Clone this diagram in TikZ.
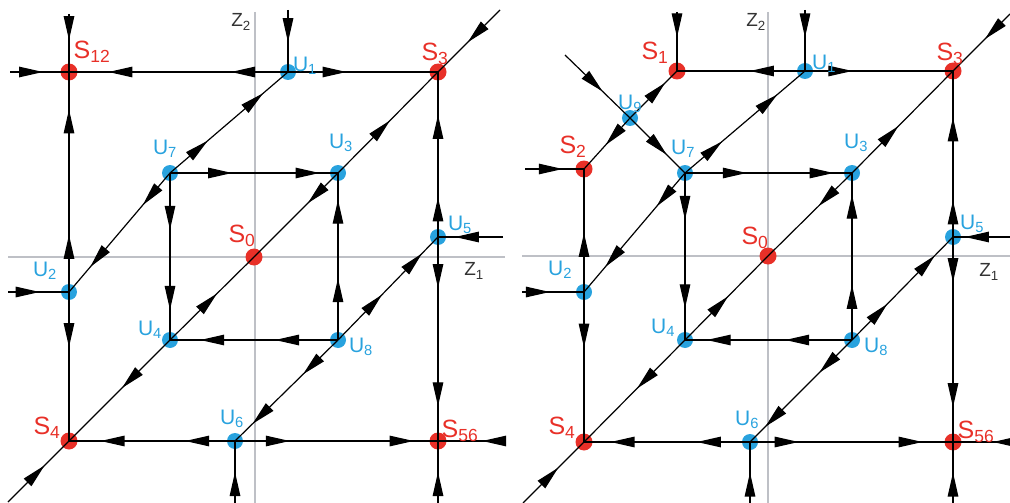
\documentclass[tikz,border=0pt]{standalone}
\usepackage{fontspec}
\setmainfont{Liberation Sans}
\usetikzlibrary{arrows.meta,decorations.markings}
\definecolor{sred}{RGB}{232,48,40}
\definecolor{ublue}{RGB}{40,162,222}
\definecolor{axgray}{RGB}{190,192,198}
\tikzset{
  ah/.tip={Triangle[length=24pt,width=10.5pt]},
  sdot/.style={circle,fill=sred,inner sep=0pt,minimum size=17pt},
  udot/.style={circle,fill=ublue,inner sep=0pt,minimum size=16pt},
  slab/.style={text=sred,font=\fontsize{25}{25}\selectfont,inner sep=0pt},
  ulab/.style={text=ublue,font=\fontsize{21}{21}\selectfont,inner sep=0pt},
  zlab/.style={text=black!80,font=\fontsize{19}{19}\selectfont,inner sep=0pt},
  ln/.style={line width=1.2pt,black},
  axisln/.style={draw=axgray,line width=1.3pt},
  aone/.style={ln,postaction={decorate},decoration={markings,mark=at position #1 with {\arrow{ah}}}},
  atwo/.style 2 args={ln,postaction={decorate},decoration={markings,mark=at position #1 with {\arrow{ah}},mark=at position #2 with {\arrow{ah}}}},
}
\begin{document}
\begin{tikzpicture}[x=1pt,y=-1pt]
\useasboundingbox (0,0) rectangle (1010,503);
% ---------------- axes
\coordinate (LaxT) at (255,12); \coordinate (LaxB) at (255,503);
\coordinate (LaxL) at (8,257);  \coordinate (LaxR) at (505,257);
\coordinate (RaxT) at (768,12); \coordinate (RaxB) at (768,503);
\coordinate (RaxL) at (522,256); \coordinate (RaxR) at (1010,256);
\draw[axisln] (LaxT) -- (LaxB);
\draw[axisln] (LaxL) -- (LaxR);
\draw[axisln] (RaxT) -- (RaxB);
\draw[axisln] (RaxL) -- (RaxR);
% ---------------- left panel nodes
\node[sdot] (LS12) at (69,72) {};
\node[udot] (LU1) at (288,72) {};
\node[sdot] (LS3) at (438,72) {};
\node[udot] (LU7) at (170,173) {};
\node[udot] (LU3) at (338,173) {};
\node[sdot] (LS0) at (254,257) {};
\node[udot] (LU5) at (438,237) {};
\node[udot] (LU2) at (69,292) {};
\node[udot] (LU4) at (170,340) {};
\node[udot] (LU8) at (338,340) {};
\node[sdot] (LS4) at (69,441) {};
\node[udot] (LU6) at (235,441) {};
\node[sdot] (LS56) at (438,441) {};
\coordinate (LoS12t) at (69,14);
\coordinate (LoS12l) at (10,72);
\coordinate (LoU1t) at (288,10);
\coordinate (LoS3) at (500,10);
\coordinate (LoU2) at (8,292);
\coordinate (LoU5) at (503,237);
\coordinate (LoS56r) at (505,441);
\coordinate (LoS56b) at (438,503);
\coordinate (LoU6b) at (235,503);
\coordinate (LoS4) at (8,502);
% left connectors
\draw[aone=0.56] (LoS12l) -- (LS12.center);
\draw[aone=0.45] (LoS12t) -- (LS12.center);
\draw[atwo={0.26}{0.82}] (LU1.center) -- (LS12.center);
\draw[aone=0.52] (LoU1t) -- (LU1.center);
\draw[aone=0.39] (LU1.center) -- (LS3.center);
\draw[aone=0.52] (LoS3) -- (LS3.center);
\draw[aone=0.52] (LU3.center) -- (LS3.center);
\draw[aone=0.36] (LU3.center) -- (LS0.center);
\draw[aone=0.56] (LU4.center) -- (LS0.center);
\draw[aone=0.475] (LU4.center) -- (LS4.center);
\draw[aone=0.6] (LoS4) -- (LS4.center);
\draw[atwo={0.32}{0.79}] (LU7.center) -- (LU1.center);
\draw[atwo={0.27}{0.79}] (LU7.center) -- (LU2.center);
\draw[atwo={0.26}{0.83}] (LU2.center) -- (LS12.center);
\draw[aone=0.37] (LU2.center) -- (LS4.center);
\draw[aone=0.52] (LoU2) -- (LU2.center);
\draw[atwo={0.37}{0.89}] (LU7.center) -- (LU3.center);
\draw[atwo={0.34}{0.82}] (LU7.center) -- (LU4.center);
\draw[atwo={0.37}{0.84}] (LU8.center) -- (LU3.center);
\draw[atwo={0.375}{0.82}] (LU8.center) -- (LU4.center);
\draw[atwo={0.34}{0.83}] (LU8.center) -- (LU6.center);
\draw[atwo={0.44}{0.84}] (LU8.center) -- (LU5.center);
\draw[atwo={0.24}{0.74}] (LU5.center) -- (LS3.center);
\draw[aone=0.74] (LoU5) -- (LU5.center);
\draw[atwo={0.25}{0.83}] (LU5.center) -- (LS56.center);
\draw[aone=0.34] (LoS56r) -- (LS56.center);
\draw[aone=0.5] (LoS56b) -- (LS56.center);
\draw[aone=0.5] (LoU6b) -- (LU6.center);
\draw[atwo={0.3}{0.81}] (LU6.center) -- (LS4.center);
\draw[atwo={0.27}{0.88}] (LU6.center) -- (LS56.center);
% left labels
\node[slab] (LlS12) at (92,52) {S\textsubscript{12}};
\node[ulab] (LlU1) at (305,66) {U\textsubscript{1}};
\node[slab] (LlS3) at (435,54) {S\textsubscript{3}};
\node[ulab] (LlU7) at (165,149) {U\textsubscript{7}};
\node[ulab] (LlU3) at (341,143) {U\textsubscript{3}};
\node[slab] (LlS0) at (242,236) {S\textsubscript{0}};
\node[ulab] (LlU5) at (460,225) {U\textsubscript{5}};
\node[ulab] (LlU2) at (45,271) {U\textsubscript{2}};
\node[ulab] (LlU4) at (150,330) {U\textsubscript{4}};
\node[ulab] (LlU8) at (361,347) {U\textsubscript{8}};
\node[slab] (LlS4) at (47,428) {S\textsubscript{4}};
\node[ulab] (LlU6) at (232,419) {U\textsubscript{6}};
\node[slab] (LlS56) at (460,431) {S\textsubscript{56}};
\node[zlab] (LlZ1) at (474,271) {Z\textsubscript{1}};
\node[zlab] (LlZ2) at (241,22) {Z\textsubscript{2}};
% ---------------- right panel nodes
\node[sdot] (RS1) at (677,71) {};
\node[udot] (RU1) at (805,71) {};
\node[sdot] (RS3) at (953,71) {};
\node[udot] (RU9) at (630,118) {};
\node[sdot] (RS2) at (584,169) {};
\node[udot] (RU7) at (685,173) {};
\node[udot] (RU3) at (852,173) {};
\node[sdot] (RS0) at (768,256) {};
\node[udot] (RU5) at (953,237) {};
\node[udot] (RU2) at (584,292) {};
\node[udot] (RU4) at (685,340) {};
\node[udot] (RU8) at (852,340) {};
\node[sdot] (RS4) at (584,442) {};
\node[udot] (RU6) at (750,442) {};
\node[sdot] (RS56) at (953,442) {};
\coordinate (RoS1t) at (677,12);
\coordinate (RoU1t) at (805,10);
\coordinate (RoS3) at (1010,14);
\coordinate (RoU9) at (565,55);
\coordinate (RoS2) at (525,169);
\coordinate (RoU2) at (522,292);
\coordinate (RoU5) at (1010,237);
\coordinate (RoS56r) at (1010,442);
\coordinate (RoS56b) at (953,503);
\coordinate (RoU6b) at (750,503);
\coordinate (RoS4) at (523,503);
% right connectors
\draw[aone=0.64] (RoS2) -- (RS2.center);
\draw[aone=0.43] (RoS1t) -- (RS1.center);
\draw[aone=0.43] (RU1.center) -- (RS1.center);
\draw[aone=0.45] (RoU1t) -- (RU1.center);
\draw[aone=0.32] (RU1.center) -- (RS3.center);
\draw[aone=0.44] (RoS3) -- (RS3.center);
\draw[aone=0.46] (RU3.center) -- (RS3.center);
\draw[aone=0.4] (RU3.center) -- (RS0.center);
\draw[aone=0.52] (RU4.center) -- (RS0.center);
\draw[aone=0.475] (RU4.center) -- (RS4.center);
\draw[aone=0.58] (RoS4) -- (RS4.center);
\draw[aone=0.75] (RU9.center) -- (RS1.center);
\draw[aone=0.53] (RU9.center) -- (RS2.center);
\draw[aone=0.58] (RoU9) -- (RU9.center);
\draw[aone=0.67] (RU9.center) -- (RU7.center);
\draw[aone=0.48] (RU2.center) -- (RS2.center);
\draw[atwo={0.28}{0.79}] (RU7.center) -- (RU2.center);
\draw[atwo={0.31}{0.77}] (RU7.center) -- (RU1.center);
\draw[atwo={0.37}{0.89}] (RU7.center) -- (RU3.center);
\draw[atwo={0.28}{0.81}] (RU7.center) -- (RU4.center);
\draw[atwo={0.22}{0.72}] (RU5.center) -- (RS3.center);
\draw[aone=0.79] (RoU5) -- (RU5.center);
\draw[atwo={0.35}{0.82}] (RU8.center) -- (RU5.center);
\draw[atwo={0.32}{0.85}] (RU8.center) -- (RU6.center);
\draw[atwo={0.33}{0.87}] (RU8.center) -- (RU3.center);
\draw[atwo={0.4}{0.87}] (RU8.center) -- (RU4.center);
\draw[aone=0.37] (RU2.center) -- (RS4.center);
\draw[aone=0.45] (RoU2) -- (RU2.center);
\draw[atwo={0.22}{0.83}] (RU5.center) -- (RS56.center);
\draw[aone=0.3] (RoS56r) -- (RS56.center);
\draw[aone=0.5] (RoS56b) -- (RS56.center);
\draw[aone=0.5] (RoU6b) -- (RU6.center);
\draw[atwo={0.32}{0.84}] (RU6.center) -- (RS4.center);
\draw[atwo={0.24}{0.85}] (RU6.center) -- (RS56.center);
% right labels
\node[slab] (RlS1) at (655,53) {S\textsubscript{1}};
\node[ulab] (RlU9) at (630,104) {U\textsubscript{9}};
\node[slab] (RlS2) at (573,147) {S\textsubscript{2}};
\node[ulab] (RlU7) at (683,149) {U\textsubscript{7}};
\node[ulab] (RlU1) at (824,64) {U\textsubscript{1}};
\node[slab] (RlS3) at (950,54) {S\textsubscript{3}};
\node[ulab] (RlU3) at (856,143) {U\textsubscript{3}};
\node[slab] (RlS0) at (755,238) {S\textsubscript{0}};
\node[ulab] (RlU5) at (972,224) {U\textsubscript{5}};
\node[ulab] (RlU2) at (560,270) {U\textsubscript{2}};
\node[ulab] (RlU4) at (663,328) {U\textsubscript{4}};
\node[ulab] (RlU8) at (876,347) {U\textsubscript{8}};
\node[slab] (RlS4) at (562,428) {S\textsubscript{4}};
\node[ulab] (RlU6) at (747,420) {U\textsubscript{6}};
\node[slab] (RlS56) at (976,432) {S\textsubscript{56}};
\node[zlab] (RlZ1) at (989,272) {Z\textsubscript{1}};
\node[zlab] (RlZ2) at (756,22) {Z\textsubscript{2}};
\end{tikzpicture}
\end{document}
